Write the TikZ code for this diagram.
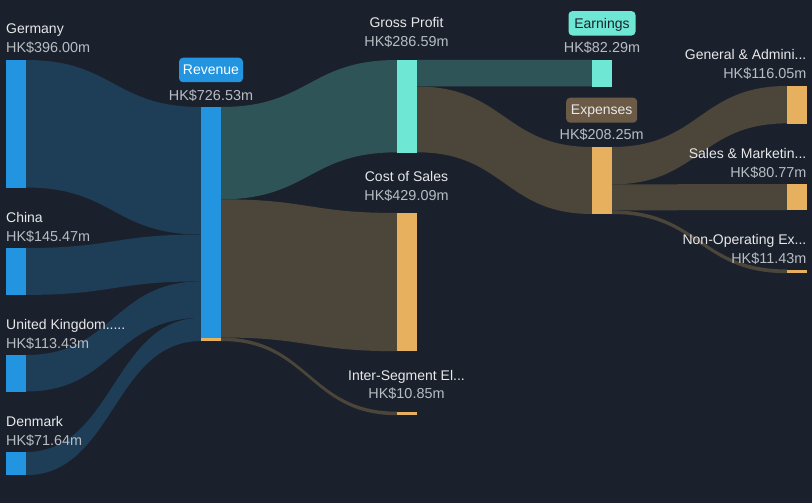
\documentclass[tikz,border=0pt]{standalone}
\usepackage{fontspec}
\setmainfont{Liberation Sans}
\definecolor{bg}{HTML}{1B212C}
\definecolor{barblue}{HTML}{2394E0}
\definecolor{barteal}{HTML}{6EE8D4}
\definecolor{barorange}{HTML}{E6B05E}
\definecolor{flowblue}{HTML}{1E3D56}
\definecolor{flowteal}{HTML}{2F5457}
\definecolor{flowbrown}{HTML}{4C4539}
\definecolor{namecol}{HTML}{E8E8EA}
\definecolor{valcol}{HTML}{B8BCC3}
\definecolor{boxbrown}{HTML}{6B5A45}
\newcommand\sflow[7]{%
  \fill[#1] (#2,#3) .. controls ({(#2+#5)/2},#3) and ({(#2+#5)/2},#6) .. (#5,#6)
    -- (#5,#7) .. controls ({(#2+#5)/2},#7) and ({(#2+#5)/2},#4) .. (#2,#4) -- cycle;}
\begin{document}
\begin{tikzpicture}[x=1pt,y=-1pt,
  bar/.style={draw=none,inner sep=0pt,minimum width=20pt,anchor=north west},
  lbl/.style={inner sep=0pt,font=\fontsize{14}{16}\selectfont,text=namecol},
  val/.style={inner sep=0pt,font=\fontsize{14.4}{16}\selectfont,text=valcol},
  tag/.style={rounded corners=4pt,inner sep=0pt}]
\useasboundingbox (0,0) rectangle (812,503);
\fill[bg] (0,0) rectangle (812,503);
% flows
\sflow{flowblue}{26}{60}{187.5}{201}{107}{234.5}
\sflow{flowblue}{26}{248}{294.9}{201}{234.5}{281.4}
\sflow{flowblue}{26}{355}{391.5}{201}{281.4}{317.9}
\sflow{flowblue}{26}{452}{475.1}{201}{317.9}{341}
\sflow{flowteal}{221}{107}{199.3}{397}{60}{152.3}
\sflow{flowbrown}{221}{199.3}{337.5}{397}{213}{351.2}
\sflow{flowbrown}{221}{337.5}{341}{397}{411.7}{415.2}
\sflow{flowteal}{417}{60}{86.5}{592}{60}{86.5}
\sflow{flowbrown}{417}{86.5}{152.3}{592}{147}{214}
\sflow{flowbrown}{612}{147}{184.4}{787}{86}{123.4}
\sflow{flowbrown}{612}{184.4}{210.4}{787}{184}{210}
\sflow{flowbrown}{612}{210.4}{214}{787}{269.5}{273.2}
% bars
\node[bar,fill=barblue,minimum height=127.5pt] (germany) at (6,60) {};
\node[bar,fill=barblue,minimum height=46.9pt] (china) at (6,248) {};
\node[bar,fill=barblue,minimum height=36.5pt] (uk) at (6,355) {};
\node[bar,fill=barblue,minimum height=23.1pt] (denmark) at (6,452) {};
\node[bar,fill=barblue,minimum height=230.5pt] (revenue) at (201,107) {};
\node[bar,fill=barorange,minimum height=3.5pt] (revenueis) at (201,337.5) {};
\node[bar,fill=barteal,minimum height=92.3pt] (gp) at (397,60) {};
\node[bar,fill=barorange,minimum height=138.2pt] (cos) at (397,213) {};
\node[bar,fill=barorange,minimum height=3.5pt] (ise) at (397,411.7) {};
\node[bar,fill=barteal,minimum height=26.5pt] (earn) at (592,60) {};
\node[bar,fill=barorange,minimum height=67pt] (exp) at (592,147) {};
\node[bar,fill=barorange,minimum height=37.4pt] (ga) at (787,86) {};
\node[bar,fill=barorange,minimum height=26pt] (sm) at (787,184) {};
\node[bar,fill=barorange,minimum height=3.7pt] (nonop) at (787,269.5) {};
% labels left
\node[lbl,anchor=base west] (germanyN) at (6,34) {Germany};
\node[val,anchor=base west] (germanyV) at (6,52.5) {HK\$396.00m};
\node[lbl,anchor=base west] (chinaN) at (6,222) {China};
\node[val,anchor=base west] (chinaV) at (6,241) {HK\$145.47m};
\node[lbl,anchor=base west] (ukN) at (6,329) {United Kingdom.....};
\node[val,anchor=base west] (ukV) at (6,348) {HK\$113.43m};
\node[lbl,anchor=base west] (denmarkN) at (6,426) {Denmark};
\node[val,anchor=base west] (denmarkV) at (6,445) {HK\$71.64m};
% revenue
\node[tag,fill=barblue,minimum width=64pt,minimum height=24.5pt] (revTag) at (211,70) {};
\node[lbl,text=white,anchor=base] (revN) at (211,75) {Revenue};
\node[val,anchor=base] (revV) at (211,100) {HK\$726.53m};
% middle
\node[lbl,anchor=base] (gpN) at (406.5,28) {Gross Profit};
\node[val,anchor=base] (gpV) at (406.5,47) {HK\$286.59m};
\node[lbl,anchor=base] (cosN) at (406.5,181) {Cost of Sales};
\node[val,anchor=base] (cosV) at (406.5,200) {HK\$429.09m};
\node[lbl,anchor=base] (iseN) at (406.5,380) {Inter-Segment El...};
\node[val,anchor=base] (iseV) at (406.5,398.5) {HK\$10.85m};
% earnings / expenses
\node[tag,fill=barteal,minimum width=67pt,minimum height=24.5pt] (earnTag) at (602,23.3) {};
\node[lbl,text=bg,anchor=base] (earnN) at (602,28.3) {Earnings};
\node[val,anchor=base] (earnV) at (602,52.3) {HK\$82.29m};
\node[tag,fill=boxbrown,minimum width=71pt,minimum height=25pt] (expTag) at (601.7,110.2) {};
\node[lbl,anchor=base] (expN) at (601.7,114.5) {Expenses};
\node[val,anchor=base] (expV) at (601.7,139.3) {HK\$208.25m};
% right
\node[lbl,anchor=base east] (gaN) at (806.5,60) {General \& Admini...};
\node[val,anchor=base east] (gaV) at (806.5,78) {HK\$116.05m};
\node[lbl,anchor=base east] (smN) at (806.5,158) {Sales \& Marketin...};
\node[val,anchor=base east] (smV) at (806.5,177) {HK\$80.77m};
\node[lbl,anchor=base east] (nonopN) at (806.5,244) {Non-Operating Ex...};
\node[val,anchor=base east] (nonopV) at (806.5,263) {HK\$11.43m};
\end{tikzpicture}
\end{document}
